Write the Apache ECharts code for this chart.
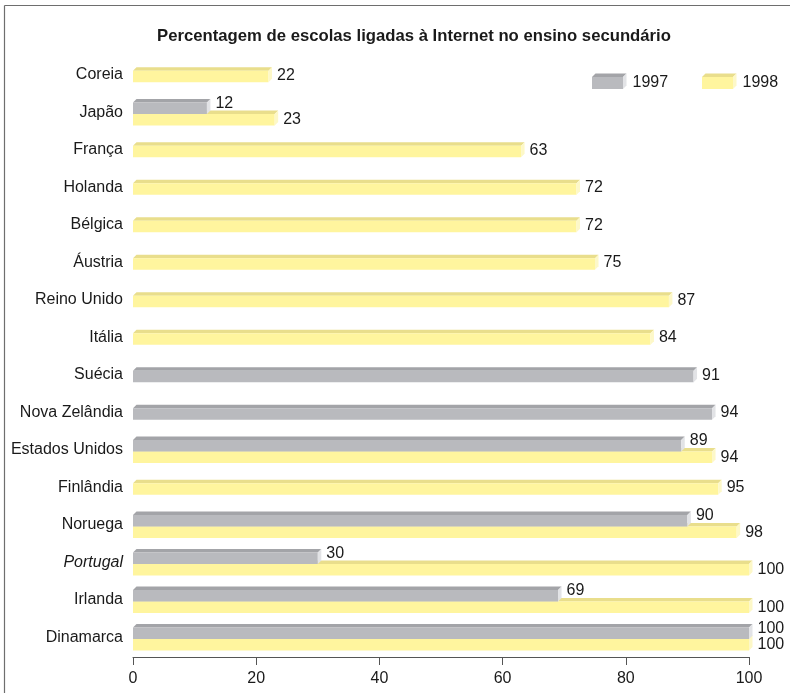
<!DOCTYPE html>
<html>
<head>
<meta charset="utf-8">
<script src="https://cdn.jsdelivr.net/npm/echarts@6/dist/echarts.min.js"></script>
<style>
html,body{margin:0;padding:0;background:#fff;}
#chart{width:790px;height:693px;}
</style>
</head>
<body>
<div id="chart"></div>
<script>
const titleText = 'Percentagem de escolas ligadas à Internet no ensino secundário';
const categories = ['Coreia','Japão','França','Holanda','Bélgica','Áustria','Reino Unido','Itália','Suécia','Nova Zelândia','Estados Unidos','Finlândia','Noruega','Portugal','Irlanda','Dinamarca'];
const values1997 = [null,12,null,null,null,null,null,null,91,94,89,null,90,30,69,100];
const values1998 = [22,23,63,72,72,75,87,84,null,null,94,95,98,100,100,100];
const seriesNames = ['1997','1998'];
const xTicks = [0,20,40,60,80,100];

const FONT = '"Liberation Sans", Arial, Helvetica, sans-serif';
const COLORS = {
  gray: {front:'#b9babe', top:'#a3a4a8', side:'#e2e3e6'},
  yellow: {front:'#fff59e', top:'#e9de8c', side:'#fdf8c8'}
};
const H = 11.5, D = 3.5;

function buildData(own, other) {
  const out = [];
  own.forEach((v, i) => {
    if (v !== null && v !== undefined) out.push([v, i, other[i] !== null ? 1 : 0]);
  });
  return out;
}

function makeRender(isGray) {
  const col = isGray ? COLORS.gray : COLORS.yellow;
  return function (params, api) {
    const val = api.value(0), cat = api.value(1), pair = api.value(2);
    const p0 = api.coord([0, cat]);
    const p1 = api.coord([val, cat]);
    const x0 = p0[0], x1 = p1[0], cy = p0[1];
    let ft;
    if (pair) {
      const top = cy - (2 * H + D) / 2;
      ft = isGray ? top + D : top + D + H;
    } else {
      ft = cy - (H + D) / 2 + D;
    }
    const fb = ft + H;
    let ly;
    if (pair) ly = isGray ? ft + H / 2 - 5 : ft + H / 2;
    else ly = ft + H / 2 - 1;
    return {
      type: 'group',
      children: [
        {type:'polygon', shape:{points:[[x0,ft],[x0+D,ft-D],[x1+D,ft-D],[x1,ft]]}, style:{fill:col.top}},
        {type:'rect', shape:{x:x0, y:ft, width:x1-x0, height:H}, style:{fill:col.front}},
        {type:'polygon', shape:{points:[[x1,ft],[x1+D,ft-D],[x1+D,fb-D],[x1,fb]]}, style:{fill:col.side}},
        {type:'text', style:{text:String(val), x:x1+D+5, y:ly, fill:'#1a1a1a', font:'16px ' + FONT, align:'left', verticalAlign:'middle'}}
      ]
    };
  };
}

function legendBox(x, y, col, label) {
  const w = 31, h = 12, d = 3.5;
  return [
    {type:'polygon', shape:{points:[[x,y],[x+d,y-d],[x+w+d,y-d],[x+w,y]]}, style:{fill:col.top}},
    {type:'rect', shape:{x:x, y:y, width:w, height:h}, style:{fill:col.front}},
    {type:'polygon', shape:{points:[[x+w,y],[x+w+d,y-d],[x+w+d,y+h-d],[x+w,y+h]]}, style:{fill:col.side}},
    {type:'text', style:{text:label, x:x+w+d+6, y:y+h/2, fill:'#1a1a1a', font:'16px ' + FONT, verticalAlign:'middle'}}
  ];
}

const chart = echarts.init(document.getElementById('chart'), null, {renderer:'canvas'});
chart.setOption({
  backgroundColor:'#fff',
  animation:false,
  title:{text:titleText, left:409, top:23, textAlign:'center',
    textStyle:{fontFamily:FONT, fontSize:16.7, fontWeight:'bold', color:'#1a1a1a'}},
  grid:{left:133, right:41, top:56, bottom:37},
  xAxis:{type:'value', min:0, max:100, interval:20, offset:1,
    axisLine:{show:true, lineStyle:{color:'#555', width:1}},
    axisTick:{show:true, length:8, lineStyle:{color:'#555'}},
    axisLabel:{fontFamily:FONT, fontSize:16, color:'#1a1a1a', margin:14,
      formatter: v => xTicks.indexOf(v) >= 0 ? String(v) : ''},
    splitLine:{show:false}},
  yAxis:{type:'category', data:categories, inverse:true,
    axisLine:{show:false}, axisTick:{show:false},
    axisLabel:{fontFamily:FONT, fontSize:16, color:'#1a1a1a', margin:10,
      formatter: v => v === 'Portugal' ? '{it|' + v + '}' : v,
      rich:{it:{fontStyle:'italic', fontFamily:FONT, fontSize:16, color:'#1a1a1a'}}}},
  series:[
    {type:'custom', name:seriesNames[1], z:2, renderItem:makeRender(false),
      encode:{x:0, y:1}, data:buildData(values1998, values1997)},
    {type:'custom', name:seriesNames[0], z:3, renderItem:makeRender(true),
      encode:{x:0, y:1}, data:buildData(values1997, values1998)}
  ],
  graphic:[
    {type:'line', shape:{x1:4.5, y1:5.5, x2:4.5, y2:693}, style:{stroke:'#6e6e6e', lineWidth:1.2}},
    {type:'line', shape:{x1:4.5, y1:5.5, x2:790, y2:5.5}, style:{stroke:'#6e6e6e', lineWidth:1.2}},
    ...legendBox(592, 77, COLORS.gray, seriesNames[0]),
    ...legendBox(702, 77, COLORS.yellow, seriesNames[1])
  ]
});
</script>
</body>
</html>
